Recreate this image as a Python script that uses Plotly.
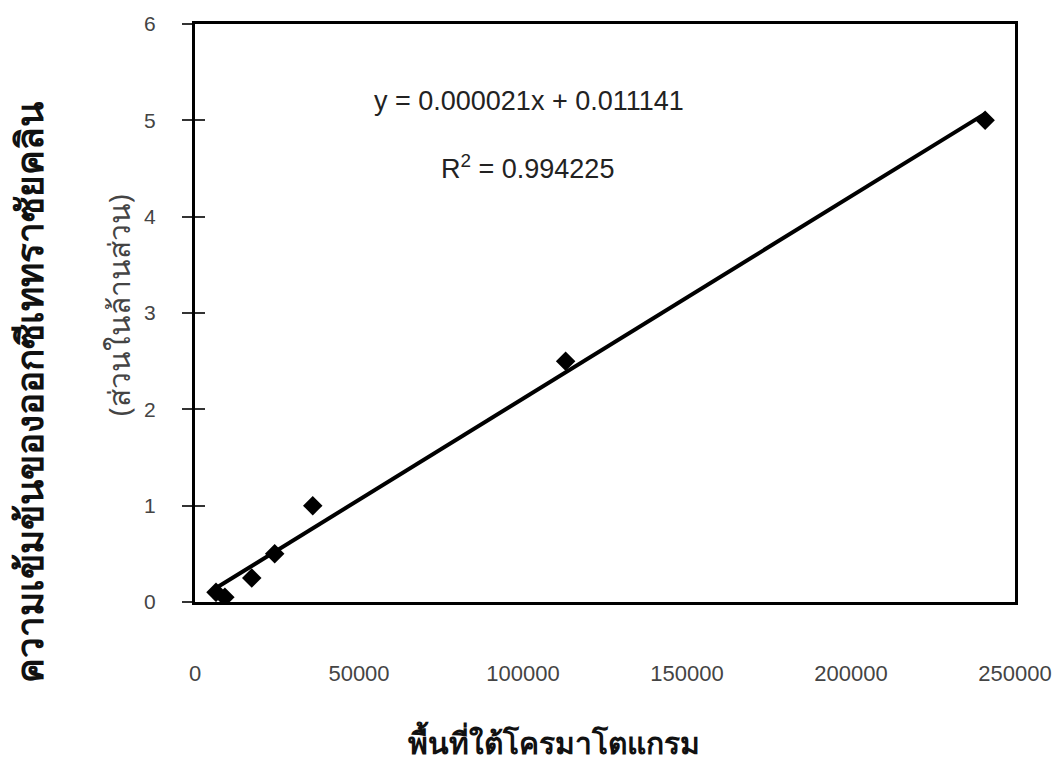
import plotly.graph_objects as go

# Data
area = [6400, 9100, 17300, 24300, 35900, 113000, 240900]
conc = [0.10, 0.05, 0.25, 0.50, 1.00, 2.50, 5.00]
slope = 0.000021
intercept = 0.011141
r2 = 0.994225
x_ticks = [0, 50000, 100000, 150000, 200000, 250000]
y_ticks = [0, 1, 2, 3, 4, 5, 6]

x_title = "พื้นที่ใต้โครมาโตแกรม"
y_title1 = "ความเข้มข้นของออกซีเททราซัยคลิน"
y_title2 = "(ส่วนในล้านส่วน)"

fit_x = [min(area), max(area)]
fit_y = [slope * v + intercept for v in fit_x]

fig = go.Figure()
fig.add_trace(go.Scatter(x=fit_x, y=fit_y, mode="lines",
                         line=dict(color="black", width=4), showlegend=False))
fig.add_trace(go.Scatter(x=area, y=conc, mode="markers",
                         marker=dict(symbol="diamond", size=15, color="black"),
                         showlegend=False))
# overlay axis for inside tick half
fig.add_trace(go.Scatter(x=[None], y=[None], yaxis="y2", showlegend=False))

xtickfont = dict(family="Liberation Sans, Arial, sans-serif", size=22, color="#444")
ytickfont = dict(family="Liberation Sans, Arial, sans-serif", size=21, color="#444")
eqfont = dict(family="Liberation Sans, Arial, sans-serif", size=27, color="#222")

def ann(text, x, y, font, angle=0):
    return dict(text=text, xref="paper", yref="paper", x=x, y=y,
                xanchor="center", yanchor="middle", showarrow=False,
                textangle=angle, font=font)

fig.update_layout(
    width=1064, height=768,
    margin=dict(l=195, r=47, t=22, b=166),
    plot_bgcolor="white", paper_bgcolor="white",
    xaxis=dict(range=[0, 250000], tickvals=x_ticks,
               ticktext=[str(v) for v in x_ticks],
               showgrid=False, zeroline=False, showline=True,
               linecolor="black", linewidth=3, mirror=True,
               ticks="", tickfont=xtickfont, ticklabelstandoff=50),
    yaxis=dict(range=[0, 6], tickvals=y_ticks,
               showgrid=False, zeroline=False, showline=True,
               linecolor="black", linewidth=3, mirror=True,
               ticks="outside", ticklen=10, tickwidth=1.5, tickcolor="#333",
               tickfont=ytickfont, ticklabelstandoff=22),
    yaxis2=dict(range=[0, 6], tickvals=y_ticks, overlaying="y", side="left",
                showgrid=False, zeroline=False, showline=False,
                ticks="inside", ticklen=10, tickwidth=1.5, tickcolor="#333",
                showticklabels=False),
    annotations=[
        ann("y = 0.000021x + 0.011141", (530 - 195) / 822, (602 - 99) / 580, eqfont),
        ann("R<sup>2</sup> = 0.994225", (528 - 195) / 822, (602 - 165) / 580, eqfont),
        ann("<b>" + x_title + "</b>", (555 - 195) / 822, (602 - 742) / 580,
            dict(size=30, color="#111")),
        ann("<b>" + y_title1 + "</b>", (28 - 195) / 822, (602 - 392) / 580,
            dict(size=37, color="#111"), -90),
        ann(y_title2, (118 - 195) / 822, (602 - 304) / 580,
            dict(size=30, color="#444"), -90),
    ],
)

fig.write_html("out.html")
